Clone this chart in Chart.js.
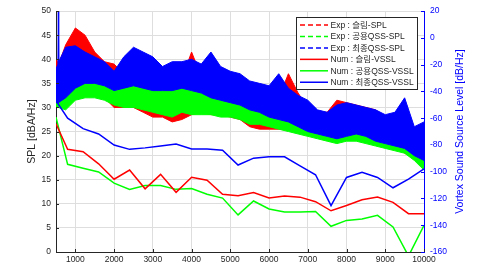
<!DOCTYPE html>
<html>
<head>
<meta charset="utf-8">
<script src="https://cdn.jsdelivr.net/npm/chart.js@4.4.0/dist/chart.umd.min.js"></script>
<style>
  html, body { margin: 0; padding: 0; background: #fff; }
  #wrap { width: 477px; height: 267px; position: relative; }
</style>
</head>
<body>
<div id="wrap"><canvas id="grafico"></canvas></div>
<script>
// Exp SPL bands (left axis, dBA/Hz): upper and lower edge of each noisy trace
const expFreq = [500, 550, 560, 570, 750, 1000, 1250, 1500, 1750, 2000, 2250, 2500, 2750, 3000,
  3250, 3500, 3750, 4000, 4250, 4500, 4750, 5000, 5250, 5500, 5750, 6000, 6250, 6500, 6750,
  7000, 7250, 7500, 7750, 8000, 8250, 8500, 8750, 9000, 9250, 9500, 9750, 10000];

const redHi = [40, 39.5, 39.5, 39, 43, 46.5, 45, 41.5, 39.5, 39, 37, 37, 36, 35.5, 35.5, 35, 36, 41.5,
  36.5, 35, 36, 34.5, 33.5, 32.5, 32, 32, 32, 37, 33, 30, 29, 29, 31.5, 31, 30.5, 30, 29.5, 28, 27.5, 26, 24, 24];
const redLo = [33, 33, 33, 33, 33, 34, 34, 34, 32, 30, 30, 30, 29, 28, 28, 27, 27.5, 28.5, 29, 28.5,
  28.5, 28, 27.5, 26, 25.5, 25.5, 25.5, 25.5, 25, 24.5, 24, 24, 23.5, 24, 24, 24, 23, 23, 22.5, 20.5, 19.5, 18.5];

const greenHi = [37, 36.5, 37, 36.5, 37.5, 37.5, 37, 37, 36.5, 36, 36, 35.5, 35.5, 35, 35, 35, 34.5, 35,
  34.5, 34, 35, 37, 36.5, 33, 32, 32.5, 32.5, 32, 31, 28, 28, 28, 28.5, 29, 29, 28.5, 28, 27, 27, 26, 24, 25];
const greenLo = [30, 30, 30, 30, 29.5, 31.5, 32, 32, 31.5, 30.5, 30, 30, 29.5, 29, 28.5, 28, 29, 28.5,
  28.5, 28.5, 28, 28, 27.5, 26.5, 26.5, 26, 25.5, 25, 24.5, 24, 23.5, 23, 22.5, 23, 23, 22.5, 22, 21.5, 21, 20.5, 19, 17];

const blueHi = [38, 39, 50, 39.5, 42.5, 42.8, 41.5, 40.5, 39.5, 37.5, 40.5, 42.5, 41.5, 40.5, 38.5, 39.5,
  39.5, 40, 39, 41.5, 38.5, 37.5, 37, 35.5, 35, 34.5, 37, 34, 32.5, 31.5, 29.5, 29, 30.5, 31, 30.5, 30, 29.5, 28.5, 29, 32, 26, 27];
const blueLo = [31, 31, 31, 31, 32, 34, 35, 35, 34.5, 33.5, 34, 34.5, 34, 33.5, 33.5, 33.5, 34, 33.5, 33,
  32, 31.5, 31, 30.5, 29.5, 29, 28, 27.5, 27, 26, 25, 24.5, 24, 23.5, 24, 24.5, 24, 23, 22.5, 22, 21.5, 20, 19];

// Num VSSL (right axis, dB/Hz)
const numFreq = [500, 800, 1200, 1600, 2000, 2400, 2800, 3200, 3600, 4000, 4400, 4800, 5200,
  5600, 6000, 6400, 6800, 7200, 7600, 8000, 8400, 8800, 9200, 9600, 10000];
const numRed = [-64.2, -83.3, -85.1, -94.1, -105.6, -98.8, -112.8, -102.0, -115.4, -104.2, -106.4, -116.8,
  -117.9, -115.5, -119.7, -118.2, -119.0, -122.4, -129.2, -125.2, -121.0, -119.0, -122.9, -131.4, -131.4];
const numGreen = [-59.2, -94.5, -97.4, -100.2, -108.5, -113.2, -110.3, -110.3, -113.2, -112.5, -116.8, -119.7,
  -132.3, -121.9, -127.9, -130.1, -130.1, -129.7, -140.8, -136.4, -135.4, -132.6, -141.3, -163, -140.1];
const numBlue = [-47, -60, -67.8, -71.8, -80.1, -83.3, -82.2, -80.8, -79.4, -83, -83, -84,
  -95, -89.9, -88.9, -88.9, -95.6, -102.3, -125.4, -104.3, -100.5, -104.3, -112, -105.5, -97.8];

const xTicks = [1000, 2000, 3000, 4000, 5000, 6000, 7000, 8000, 9000, 10000];
const yTicks = [0, 5, 10, 15, 20, 25, 30, 35, 40, 45, 50];
const y2Ticks = [-160, -140, -120, -100, -80, -60, -40, -20, 0, 20];

const legendNames = ['Exp : 슬림-SPL', 'Exp : 공용QSS-SPL', 'Exp : 최종QSS-SPL',
  'Num : 슬림-VSSL', 'Num : 공용QSS-VSSL', 'Num : 최종QSS-VSSL'];
const colors = ['#ff0000', '#00ff00', '#0000ff'];

const FONT = '"Liberation Sans", Arial, "Noto Sans CJK KR", sans-serif';
const ink = '#262626';

const pts = (xs, ys) => xs.map((x, i) => ({ x: x, y: ys[i] }));

function band(hi, lo, color, order) {
  return [
    { data: pts(expFreq, hi), yAxisID: 'y', borderColor: color, backgroundColor: color,
      borderWidth: 1, pointRadius: 0, fill: '+1', order: order },
    { data: pts(expFreq, lo), yAxisID: 'y', borderColor: color, backgroundColor: color,
      borderWidth: 1, pointRadius: 0, fill: false, order: order }
  ];
}
function numLine(ys, color) {
  return { data: pts(numFreq, ys), yAxisID: 'y2', borderColor: color, borderWidth: 1.5,
    pointRadius: 0, fill: false, order: 0 };
}

const tickMarks = {
  id: 'tickMarks',
  afterDatasetsDraw(chart) {
    const c = chart.ctx, a = chart.chartArea, s = chart.scales;
    c.save();
    c.lineWidth = 1;
    c.strokeStyle = ink;
    yTicks.forEach(v => { const y = Math.round(s.y.getPixelForValue(v)) + 0.5;
      c.beginPath(); c.moveTo(a.left, y); c.lineTo(a.left + 3, y); c.stroke(); });
    xTicks.forEach(v => { const x = Math.round(s.x.getPixelForValue(v)) + 0.5;
      c.beginPath(); c.moveTo(x, a.bottom); c.lineTo(x, a.bottom - 3); c.stroke(); });
    c.strokeStyle = '#0000ff';
    y2Ticks.forEach(v => { const y = Math.round(s.y2.getPixelForValue(v)) + 0.5;
      c.beginPath(); c.moveTo(a.right, y); c.lineTo(a.right - 3, y); c.stroke(); });
    c.restore();
  }
};

const boxLegend = {
  id: 'boxLegend',
  afterDraw(chart) {
    const c = chart.ctx, a = chart.chartArea;
    c.save();
    // axis titles
    c.font = '10.5px ' + FONT;
    c.textAlign = 'center';
    c.textBaseline = 'middle';
    const cy = (a.top + a.bottom) / 2;
    c.fillStyle = ink;
    c.save(); c.translate(32, cy); c.rotate(-Math.PI / 2); c.fillText('SPL [dBA/Hz]', 0, 0); c.restore();
    c.fillStyle = '#0000ff';
    c.save(); c.translate(460, cy); c.rotate(-Math.PI / 2); c.fillText('Vortex Sound Source Level [dB/Hz]', 0, 0); c.restore();

    // legend box
    const bx = 296.5, by = 17.5, bw = 121, bh = 72;
    c.fillStyle = '#fff';
    c.fillRect(bx, by, bw, bh);
    c.strokeStyle = ink;
    c.lineWidth = 1;
    c.strokeRect(bx, by, bw, bh);
    c.font = '8.5px ' + FONT;
    c.textAlign = 'left';
    legendNames.forEach((name, i) => {
      const y = 25 + i * 11.45;
      c.strokeStyle = colors[i % 3];
      c.lineWidth = 1.5;
      c.setLineDash(i < 3 ? [5, 3] : []);
      c.beginPath(); c.moveTo(300, y); c.lineTo(328, y); c.stroke();
      c.setLineDash([]);
      c.fillStyle = ink;
      c.fillText(name, 330.5, y + 0.5);
    });
    c.restore();
  }
};

const tickFont = { family: FONT, size: 8.5 };

new Chart(document.getElementById('grafico'), {
  type: 'line',
  data: {
    datasets: [
      numLine(numRed, '#ff0000'),
      numLine(numGreen, '#00ff00'),
      numLine(numBlue, '#0000ff'),
      ...band(blueHi, blueLo, '#0000ff', 1),
      ...band(greenHi, greenLo, '#00ff00', 2),
      ...band(redHi, redLo, '#ff0000', 3)
    ]
  },
  options: {
    responsive: true,
    maintainAspectRatio: false,
    animation: false,
    layout: { padding: { top: 10, left: 0, right: 0, bottom: 0 } },
    elements: { line: { tension: 0 } },
    plugins: { legend: { display: false }, tooltip: { enabled: false } },
    scales: {
      x: {
        type: 'linear', min: 500, max: 10000,
        afterBuildTicks: s => { s.ticks = xTicks.map(v => ({ value: v })); },
        afterFit: s => { s.height = 15; },
        grid: { color: '#dedede', drawTicks: false },
        border: { color: ink },
        ticks: { color: ink, font: tickFont, padding: 3, maxRotation: 0, autoSkip: false, callback: v => String(v) }
      },
      y: {
        position: 'left', min: 0, max: 50,
        afterBuildTicks: s => { s.ticks = yTicks.map(v => ({ value: v })); },
        afterFit: s => { s.width = 56; },
        grid: { color: '#dedede', drawTicks: false },
        border: { color: ink },
        ticks: { color: ink, font: tickFont, padding: 5, callback: v => String(v) }
      },
      y2: {
        position: 'right', min: -160, max: 20,
        afterBuildTicks: s => { s.ticks = y2Ticks.map(v => ({ value: v })); },
        afterFit: s => { s.width = 53; },
        grid: { display: false, drawTicks: false },
        border: { color: '#0000ff' },
        ticks: { color: '#0000ff', font: tickFont, padding: 6, callback: v => String(v) }
      }
    }
  },
  plugins: [tickMarks, boxLegend]
});
</script>
</body>
</html>
